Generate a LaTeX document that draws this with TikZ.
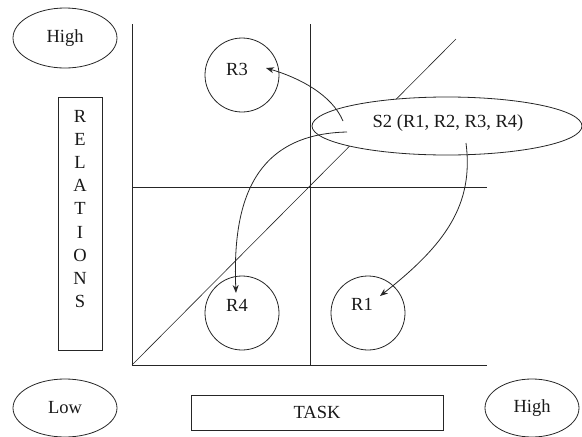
\documentclass[tikz,border=0pt]{standalone}
\usepackage{fontspec}
\setmainfont{Liberation Serif}
\usetikzlibrary{shapes.geometric,arrows.meta}
\begin{document}
\begin{tikzpicture}[x=1pt,y=-1pt,
  every node/.style={font=\fontsize{18.5}{22}\selectfont, text=black!90},
  ln/.style={draw=black!85, line width=0.8pt},
  oval/.style={ln, ellipse, inner sep=0pt},
  circ/.style={ln, circle, minimum size=74pt, inner sep=0pt},
  boxr/.style={ln, rectangle, inner sep=0pt},
  arr/.style={ln, -{Stealth[length=8pt,width=6pt]}}]
\useasboundingbox (0,0) rectangle (582,437);
% axes and grid lines
\coordinate (tl) at (132,24);
\coordinate (bl) at (132,365);
\coordinate (br) at (487,365);
\coordinate (mt) at (310,24);
\coordinate (mb) at (310,365);
\coordinate (ml) at (132,187);
\coordinate (mr) at (487,187);
\coordinate (dg) at (456,39);
\draw[ln] (tl) -- (bl) -- (br);
\draw[ln] (mt) -- (mb);
\draw[ln] (ml) -- (mr);
\draw[ln, line width=0.6pt] (bl) -- (dg);
% labels
\node[oval, minimum width=104pt, minimum height=60pt] (hi1) at (65,38) {High};
\node[oval, minimum width=104pt, minimum height=58pt] (low) at (65,408) {Low};
\node[oval, minimum width=94pt, minimum height=58pt] (hi2) at (532,408) {High};
\node[boxr, minimum width=44pt, minimum height=253pt] (rel) at (80,223.5) {};
\node[align=center, font=\fontsize{18.5}{23.1}\selectfont] (reltext) at (80,209) {R\\E\\L\\A\\T\\I\\O\\N\\S};
\node[boxr, minimum width=252pt, minimum height=35pt] (task) at (317,412.5) {};
\node (tasktext) at (317,412) {TASK};
% circles
\node[circ] (r3) at (242,75) {};
\node (r3t) at (237,69) {R3};
\node[circ] (r4) at (242,313) {};
\node (r4t) at (237,305) {R4};
\node[circ] (r1) at (368,313) {};
\node (r1t) at (362,304) {R1};
% S2
\node[oval, minimum width=270pt, minimum height=58pt, fill=white] (s2) at (447,126) {};
\node (s2t) at (448,123) {S2 (R1, R2, R3, R4)};
% arrows
\coordinate (a1) at (343,121);
\coordinate (a1e) at (266,68);
\coordinate (a2) at (347,132);
\coordinate (a2e) at (236,293);
\coordinate (a3) at (466,143);
\coordinate (a3e) at (380,296);
\draw[arr] (a1) .. controls (332,95) and (300,78) .. (a1e);
\draw[arr] (a2) .. controls (255,134) and (232,200) .. (a2e);
\draw[arr] (a3) .. controls (474,205) and (445,245) .. (a3e);
\end{tikzpicture}
\end{document}
